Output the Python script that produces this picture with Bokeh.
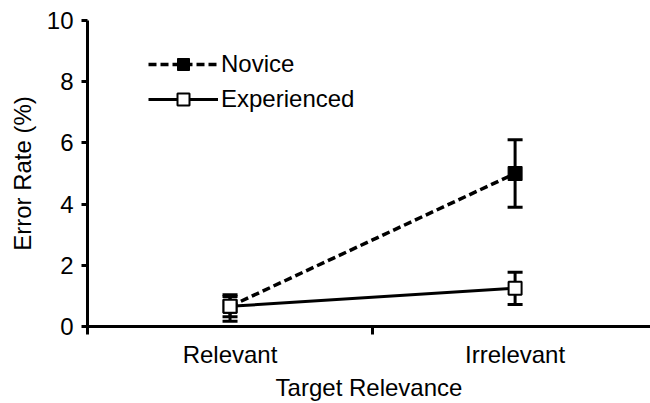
from bokeh.plotting import figure
from bokeh.models import FixedTicker, Range1d, ColumnDataSource, Whisker, TeeHead, Legend, LegendItem
from bokeh.embed import file_html
from bokeh.resources import INLINE

categories = ["Relevant", "Irrelevant"]
cat_pos = [0.5, 1.5]
novice_mean = [0.66, 5.0]
novice_lower = [0.32, 3.9]
novice_upper = [1.04, 6.1]
exp_mean = [0.66, 1.25]
exp_lower = [0.17, 0.72]
exp_upper = [0.98, 1.77]
y_ticks = [0, 2, 4, 6, 8, 10]

FONT = "Liberation Sans"
FS = "24px"

p = figure(width=650, height=403, output_backend="svg", toolbar_location=None,
           x_range=Range1d(0, 1.975), y_range=Range1d(0, 10),
           min_border_left=87, min_border_right=0, min_border_top=20, min_border_bottom=70)
p.grid.visible = False
p.outline_line_color = None

nov = ColumnDataSource(dict(x=cat_pos, y=novice_mean, lo=novice_lower, hi=novice_upper))
exp = ColumnDataSource(dict(x=cat_pos, y=exp_mean, lo=exp_lower, hi=exp_upper))

for src in (nov, exp):
    w = Whisker(source=src, base="x", lower="lo", upper="hi", line_width=3, line_color="black",
                upper_head=TeeHead(size=15, line_width=3, line_color="black"),
                lower_head=TeeHead(size=15, line_width=3, line_color="black"))
    p.add_layout(w)

nl = p.line("x", "y", source=nov, line_width=3.5, line_color="black", line_dash="8 4")
el = p.line("x", "y", source=exp, line_width=3, line_color="black")
ns = p.scatter("x", "y", source=nov, marker="square", size=14, fill_color="black", line_color="black", line_width=1)
es = p.scatter("x", "y", source=exp, marker="square", size=13, fill_color="white", line_color="black", line_width=2)

legend = Legend(items=[LegendItem(label="Novice", renderers=[nl, ns]),
                       LegendItem(label="Experienced", renderers=[el, es])],
                location=(61, 212), glyph_width=70, glyph_height=30, label_height=30,
                spacing=5, padding=0, margin=0, label_standoff=3,
                background_fill_alpha=0, border_line_color=None,
                label_text_font=FONT, label_text_font_size=FS, label_text_color="black")
p.add_layout(legend, "center")

# x axis
p.xaxis.ticker = FixedTicker(ticks=cat_pos, minor_ticks=[0, 1, 2])
p.xaxis.major_label_overrides = {0.5: categories[0], 1.5: categories[1]}
p.xaxis.major_tick_out = 0
p.xaxis.major_tick_in = 0
p.xaxis.minor_tick_out = 8
p.xaxis.minor_tick_in = 0
p.xaxis.minor_tick_line_width = 3
p.xaxis.axis_line_width = 3
p.xaxis.axis_label = "Target Relevance"
p.xaxis.major_label_standoff = 6
p.xaxis.axis_label_standoff = 3

# y axis
p.yaxis.ticker = FixedTicker(ticks=y_ticks, minor_ticks=[])
p.yaxis.major_tick_out = 6
p.yaxis.major_tick_in = 0
p.yaxis.major_tick_line_width = 3
p.yaxis.axis_line_width = 3
p.yaxis.axis_label = "Error Rate (%)"
p.yaxis.major_label_standoff = 8
p.yaxis.axis_label_standoff = 8

for ax in (p.xaxis, p.yaxis):
    ax.axis_line_color = "black"
    ax.major_tick_line_color = "black"
    ax.minor_tick_line_color = "black"
    ax.major_label_text_font = FONT
    ax.major_label_text_font_size = FS
    ax.major_label_text_color = "black"
    ax.axis_label_text_font = FONT
    ax.axis_label_text_font_size = FS
    ax.axis_label_text_font_style = "normal"
    ax.axis_label_text_color = "black"

open("out.html", "w").write(file_html(p, INLINE))
